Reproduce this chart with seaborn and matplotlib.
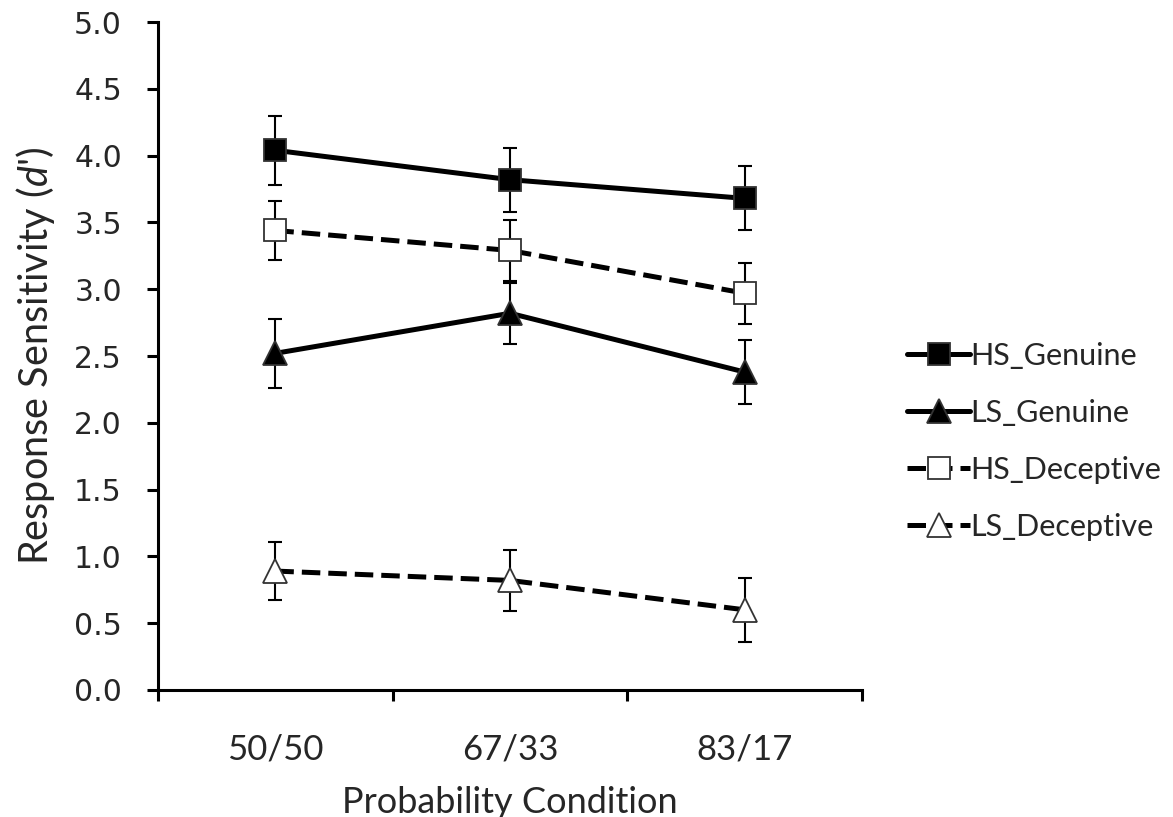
import numpy as np
import pandas as pd
import seaborn as sns
import matplotlib.pyplot as plt
from matplotlib.ticker import MultipleLocator, FormatStrFormatter

# Probability conditions on the x axis
conditions = ["50/50", "67/33", "83/17"]

# Mean d' per series
hs_genuine = [4.04, 3.82, 3.68]
ls_genuine = [2.52, 2.82, 2.38]
hs_deceptive = [3.44, 3.29, 2.97]
ls_deceptive = [0.89, 0.82, 0.60]

# Standard errors
hs_genuine_se = [0.26, 0.24, 0.24]
ls_genuine_se = [0.26, 0.23, 0.24]
hs_deceptive_se = [0.22, 0.23, 0.23]
ls_deceptive_se = [0.22, 0.23, 0.24]

series = [
    ("HS_Genuine", hs_genuine, hs_genuine_se, "s", "black", "-"),
    ("LS_Genuine", ls_genuine, ls_genuine_se, "^", "black", "-"),
    ("HS_Deceptive", hs_deceptive, hs_deceptive_se, "s", "white", "--"),
    ("LS_Deceptive", ls_deceptive, ls_deceptive_se, "^", "white", "--"),
]

sns.set_style("white")
plt.rcParams["font.family"] = ["Lato", "DejaVu Sans"]
plt.rcParams["mathtext.fontset"] = "custom"
plt.rcParams["mathtext.it"] = "Lato:italic"
plt.rcParams["mathtext.rm"] = "Lato"

fig = plt.figure(figsize=(11.73, 8.17), dpi=100)
ax = fig.add_axes([0.1347, 0.1555, 0.6002, 0.8175])

for name, vals, se, marker, face, ls in series:
    df = pd.DataFrame({"condition": conditions, "dprime": vals})
    # error bars first so markers sit on top
    ax.errorbar(np.arange(len(conditions)), vals, yerr=se, fmt="none",
                ecolor="black", elinewidth=1.5, capsize=5, capthick=1.5, zorder=2)
    sns.lineplot(data=df, x="condition", y="dprime", ax=ax, label=name,
                 color="black", linewidth=3.6, linestyle=ls, marker=marker,
                 markersize=15.5 if marker == "s" else 17,
                 markerfacecolor=face, markeredgecolor="#333333",
                 markeredgewidth=1.3, sort=False, zorder=3,
                 dashes=(3.4, 1.9) if ls == "--" else "")

ax.set_xlim(-0.5, 2.5)
ax.set_ylim(0, 5.0)
ax.yaxis.set_major_locator(MultipleLocator(0.5))
ax.yaxis.set_major_formatter(FormatStrFormatter("%.1f"))

# category ticks: labels at centres, tick marks at boundaries
ax.set_xticks(range(len(conditions)))
ax.set_xticklabels(conditions, fontsize=25)
ax.set_xticks([-0.5, 0.5, 1.5, 2.5], minor=True)
ax.tick_params(axis="x", which="major", bottom=True, length=0, pad=31)
ax.tick_params(axis="x", which="minor", bottom=True, length=8, width=2.2,
               direction="out", color="black")
ax.tick_params(axis="y", left=True, length=8, width=2.2, direction="out",
               color="black", pad=18, labelsize=21.5,
               labelfontfamily="DejaVu Sans")

for side in ["top", "right"]:
    ax.spines[side].set_visible(False)
for side in ["left", "bottom"]:
    ax.spines[side].set_linewidth(2.2)
    ax.spines[side].set_color("black")

ax.set_xlabel("Probability Condition", fontsize=26, labelpad=15)
ax.set_ylabel("Response Sensitivity ($\\mathit{d}$')", fontsize=28.5, labelpad=12)

ax.legend(loc="center left", bbox_to_anchor=(0.75, 0.46),
          bbox_transform=fig.transFigure, frameon=False, fontsize=22,
          handlelength=2.05, handletextpad=0.0, labelspacing=0.95)

fig.savefig("out.png", dpi=100)
